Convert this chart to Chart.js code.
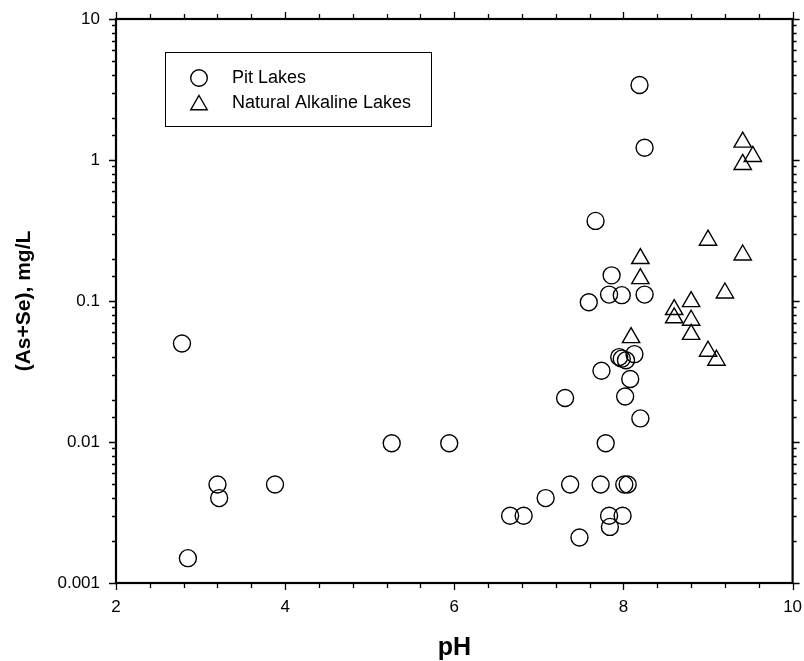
<!DOCTYPE html>
<html>
<head>
<meta charset="utf-8">
<style>
  html, body { margin: 0; padding: 0; background: #ffffff; }
  #wrap { width: 804px; height: 661px; }
</style>
<script src="https://cdn.jsdelivr.net/npm/chart.js@4/dist/chart.umd.min.js"></script>
</head>
<body>
<div id="wrap"><canvas id="c" width="804" height="661"></canvas></div>
<script>
// ---- data ----
const pitLabel = 'Pit Lakes';
const pitPH = [2.78, 2.85, 3.20, 3.22, 3.88, 5.26, 5.94, 6.66, 6.82, 7.08,
               7.37, 7.48, 7.31, 7.73, 7.79, 7.74, 7.83, 7.84, 7.99, 8.01,
               8.05, 8.02, 8.20, 8.08, 7.95, 7.98, 8.03, 8.13, 7.59, 7.83,
               7.98, 8.25, 7.86, 7.67, 8.25, 8.19];
const pitConc = [0.050, 0.0015, 0.005, 0.004, 0.005, 0.0098, 0.0098, 0.003, 0.003, 0.004,
                 0.005, 0.0021, 0.0205, 0.005, 0.0098, 0.032, 0.003, 0.0025, 0.003, 0.005,
                 0.005, 0.021, 0.0147, 0.028, 0.040, 0.039, 0.038, 0.042, 0.098, 0.111,
                 0.110, 0.111, 0.152, 0.37, 1.22, 3.4];

const alkLabel = 'Natural Alkaline Lakes';
const alkPH = [8.09, 8.20, 8.20, 8.60, 8.60, 8.80, 8.80, 8.80, 9.00, 9.10,
               9.00, 9.20, 9.41, 9.41, 9.53, 9.41];
const alkConc = [0.055, 0.144, 0.200, 0.087, 0.076, 0.099, 0.073, 0.058, 0.044, 0.038,
                 0.27, 0.114, 0.212, 1.34, 1.06, 0.93];

const xMin = 2, xMax = 10, xStep = 0.4;
const yMin = 0.001, yMax = 10;
const xLabelValues = [2, 4, 6, 8, 10];
const yLabelValues = [0.001, 0.01, 0.1, 1, 10];
const yLabelTexts = ['0.001', '0.01', '0.1', '1', '10'];
const xTitle = 'pH';
const yTitle = '(As+Se), mg/L';

// ---- helpers ----
const FONT = "'Liberation Sans', Arial, Helvetica, sans-serif";
function toPoints(xs, ys) { return xs.map((x, i) => ({ x: x, y: ys[i] })); }
function near(a, b) { return Math.abs(a - b) < 1e-6 * Math.max(1, Math.abs(b)); }
function xLabel(v) {
  for (const L of xLabelValues) if (near(v, L)) return String(L);
  return '';
}
function yLabel(v) {
  for (let i = 0; i < yLabelValues.length; i++) if (near(v, yLabelValues[i])) return yLabelTexts[i];
  return '';
}

// frame + outward ticks on all four sides
const framePlugin = {
  id: 'frame',
  afterDatasetsDraw(chart) {
    const ctx = chart.ctx, a = chart.chartArea;
    const xs = chart.scales.x, ys = chart.scales.y;
    ctx.save();
    ctx.strokeStyle = '#000';
    ctx.lineWidth = 1.3;
    ctx.beginPath();
    xs.ticks.forEach(t => {
      const p = Math.round(xs.getPixelForValue(t.value)) + 0.5;
      const major = xLabel(t.value) !== '';
      const L = major ? 7 : 5;
      ctx.moveTo(p, a.bottom); ctx.lineTo(p, a.bottom + L);
      ctx.moveTo(p, a.top); ctx.lineTo(p, a.top - L);
    });
    ys.ticks.forEach(t => {
      const p = Math.round(ys.getPixelForValue(t.value)) + 0.5;
      const major = yLabel(t.value) !== '';
      const L = major ? 7 : 4;
      ctx.moveTo(a.left, p); ctx.lineTo(a.left - L, p);
      ctx.moveTo(a.right, p); ctx.lineTo(a.right + L, p);
    });
    ctx.stroke();
    ctx.lineWidth = 2.2;
    ctx.strokeRect(a.left, a.top, a.right - a.left, a.bottom - a.top);
    ctx.restore();
  }
};

// legend box inside the plot
function drawMarker(ctx, style, r, x, y) {
  ctx.beginPath();
  if (style === 'circle') {
    ctx.arc(x, y, r, 0, Math.PI * 2);
  } else {
    let rad = 0;
    ctx.moveTo(x + Math.sin(rad) * r, y - Math.cos(rad) * r);
    rad += 2 * Math.PI / 3;
    ctx.lineTo(x + Math.sin(rad) * r, y - Math.cos(rad) * r);
    rad += 2 * Math.PI / 3;
    ctx.lineTo(x + Math.sin(rad) * r, y - Math.cos(rad) * r);
    ctx.closePath();
  }
  ctx.stroke();
}
const legendPlugin = {
  id: 'innerLegend',
  afterDraw(chart) {
    const ctx = chart.ctx;
    const bx = 165.5, by = 52.5, bw = 266, bh = 74;
    ctx.save();
    ctx.strokeStyle = '#000';
    ctx.lineWidth = 1;
    ctx.strokeRect(bx, by, bw, bh);
    ctx.font = '18px ' + FONT;
    ctx.fillStyle = '#000';
    ctx.textBaseline = 'middle';
    ctx.textAlign = 'left';
    chart.data.datasets.forEach((ds, i) => {
      const cy = 78 + i * 25;
      ctx.lineWidth = ds.borderWidth;
      drawMarker(ctx, ds.pointStyle, i === 0 ? 8.3 : 9.5, 199, cy + (i === 0 ? 0 : 2));
      ctx.fillText(ds.label, 232, cy);
    });
    ctx.restore();
  }
};

const chart = new Chart(document.getElementById('c'), {
  type: 'scatter',
  data: {
    datasets: [
      {
        label: pitLabel,
        data: toPoints(pitPH, pitConc),
        pointStyle: 'circle',
        pointRadius: 8.5,
        pointHoverRadius: 8.5,
        borderColor: '#000',
        backgroundColor: 'rgba(0,0,0,0)',
        borderWidth: 1.4
      },
      {
        label: alkLabel,
        data: toPoints(alkPH, alkConc),
        pointStyle: 'triangle',
        pointRadius: 10,
        pointHoverRadius: 10,
        borderColor: '#000',
        backgroundColor: 'rgba(0,0,0,0)',
        borderWidth: 1.4
      }
    ]
  },
  options: {
    responsive: false,
    animation: false,
    events: [],
    layout: { padding: { left: 0, right: 11, top: 19, bottom: 0 } },
    plugins: {
      legend: { display: false },
      tooltip: { enabled: false },
      title: { display: false }
    },
    scales: {
      x: {
        type: 'linear',
        position: 'bottom',
        min: xMin, max: xMax,
        grid: { display: false, drawTicks: false },
        border: { display: false },
        ticks: {
          stepSize: xStep,
          autoSkip: false,
          maxRotation: 0,
          padding: 14,
          color: '#000',
          font: { family: FONT, size: 17 },
          callback: (v) => xLabel(v)
        },
        title: {
          display: true,
          text: xTitle,
          color: '#000',
          font: { family: FONT, size: 25, weight: 'bold', lineHeight: 1 },
          padding: { top: 0, bottom: 0 }
        },
        afterFit(scale) {
          scale.height = 78;
          scale.paddingLeft = 0; scale.paddingRight = 0;
        }
      },
      y: {
        type: 'logarithmic',
        position: 'left',
        min: yMin, max: yMax,
        grid: { display: false, drawTicks: false },
        border: { display: false },
        ticks: {
          autoSkip: false,
          padding: 16,
          color: '#000',
          font: { family: FONT, size: 17 },
          callback: (v) => yLabel(v)
        },
        title: {
          display: true,
          text: yTitle,
          color: '#000',
          font: { family: FONT, size: 21, weight: 'bold', lineHeight: 1 },
          padding: { top: 14, bottom: 0 }
        },
        afterFit(scale) {
          scale.width = 116;
          scale.paddingTop = 0; scale.paddingBottom = 0;
        }
      }
    }
  },
  plugins: [framePlugin, legendPlugin]
});
</script>
</body>
</html>
